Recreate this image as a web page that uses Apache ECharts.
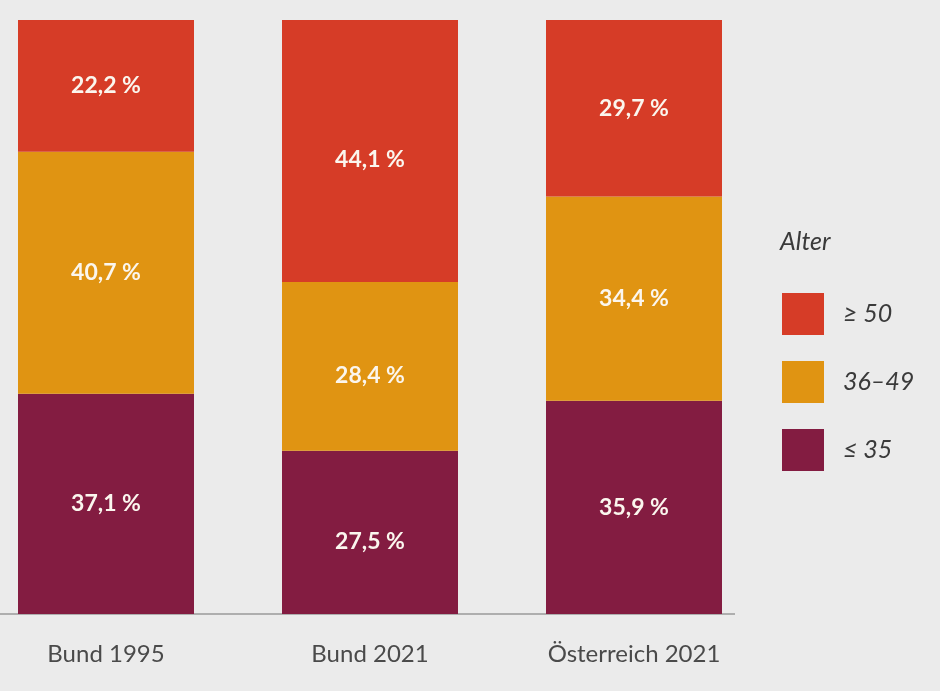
<!DOCTYPE html>
<html>
<head>
<meta charset="utf-8">
<script src="https://cdn.jsdelivr.net/npm/echarts@6/dist/echarts.min.js"></script>
<style>
html,body{margin:0;padding:0;background:#ebebeb;}
#chart{width:940px;height:691px;}
</style>
</head>
<body>
<div id="chart"></div>
<script>
const categories = ['Bund 1995', 'Bund 2021', 'Österreich 2021'];
const seriesNames = ['≥ 50', '36–49', '≤ 35'];
const age50plus = [22.2, 44.1, 29.7];
const age36to49 = [40.7, 28.4, 34.4];
const age35minus = [37.1, 27.5, 35.9];
const colors = { '≥ 50': '#d63c27', '36–49': '#e09412', '≤ 35': '#831c41' };

const chart = echarts.init(document.getElementById('chart'));
function fmt(v) { return v.toFixed(1).replace('.', ',') + ' %'; }
function mk(name, data) {
  return {
    name: name, type: 'bar', stack: 'total', barWidth: 176,
    data: data.map((v, i) => i === 1 ? { value: v, label: { offset: [0, 9] } } : v),
    itemStyle: { color: colors[name] },
    label: {
      show: true, position: 'inside', color: '#fbf6ee',
      fontFamily: 'Lato', fontWeight: 'bold', fontSize: 23,
      formatter: p => fmt(p.value)
    }
  };
}
chart.setOption({
  backgroundColor: '#ebebeb',
  animation: false,
  title: {
    text: 'Alter', left: 780, top: 229, padding: 0,
    textStyle: { fontFamily: 'Lato', fontStyle: 'italic', fontWeight: 'normal', fontSize: 25, color: '#3a3a3a' }
  },
  legend: {
    orient: 'vertical', left: 782, top: 293, padding: 0,
    itemWidth: 42, itemHeight: 42, itemGap: 26,
    icon: 'rect',
    data: seriesNames,
    textStyle: { fontFamily: 'Lato', fontStyle: 'italic', fontSize: 25, color: '#3a3a3a', padding: [0, 0, 0, 14] }
  },
  grid: { left: -26, right: 940 - 766, top: 20, bottom: 77, containLabel: false, outerBoundsMode: 'none' },
  xAxis: {
    type: 'category', data: categories,
    axisLine: { show: false },
    axisTick: { show: false },
    axisLabel: { color: '#4a4a4a', fontFamily: 'Lato', fontSize: 24, margin: 28 }
  },
  yAxis: { type: 'value', min: 0, max: 100, show: false },
  graphic: [{
    type: 'line', shape: { x1: 0, y1: 614, x2: 735, y2: 614 },
    style: { stroke: '#9a9a9a', lineWidth: 1.5 }
  }],
  series: [
    mk('≤ 35', age35minus),
    mk('36–49', age36to49),
    mk('≥ 50', age50plus)
  ]
});
</script>
</body>
</html>
